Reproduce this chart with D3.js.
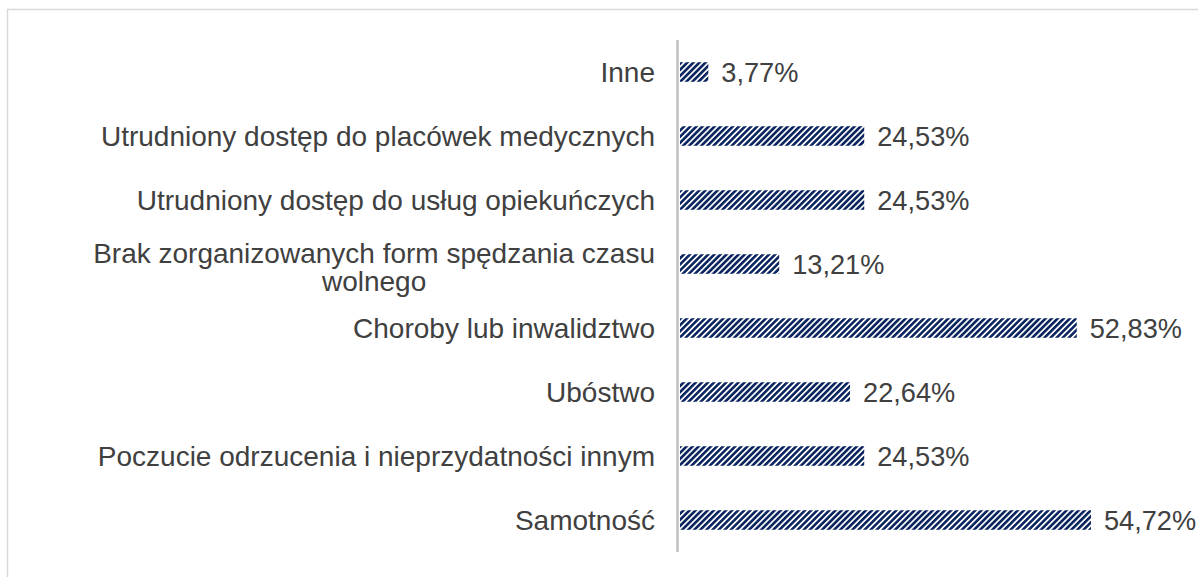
<!DOCTYPE html>
<html>
<head>
<meta charset="utf-8">
<script src="https://cdn.jsdelivr.net/npm/d3@7"></script>
<style>
  html, body { margin: 0; padding: 0; background: #fff; }
  svg { display: block; font-family: "Liberation Sans", Arial, sans-serif; }
</style>
</head>
<body>
<svg id="chart" width="1198" height="577"></svg>
<script>
// categories from top to bottom
const categories = [
  "Inne",
  "Utrudniony dostęp do placówek medycznych",
  "Utrudniony dostęp do usług opiekuńczych",
  "Brak zorganizowanych form spędzania czasu wolnego",
  "Choroby lub inwalidztwo",
  "Ubóstwo",
  "Poczucie odrzucenia i nieprzydatności innym",
  "Samotność"
];
const values = [3.77, 24.53, 24.53, 13.21, 52.83, 22.64, 24.53, 54.72];

const width = 1198, height = 577;
const svg = d3.select("#chart");

// stripe pattern for the bars
const defs = svg.append("defs");
const pat = defs.append("pattern")
    .attr("id", "stripes")
    .attr("patternUnits", "userSpaceOnUse")
    .attr("width", 4.3)
    .attr("height", 10)
    .attr("patternTransform", "rotate(45)");
pat.append("rect").attr("width", 4.3).attr("height", 10).attr("fill", "#fff");
pat.append("rect").attr("width", 2.6).attr("height", 10).attr("fill", "#0c2660");

// chart area border
svg.append("rect")
    .attr("x", 7.5).attr("y", 9.5)
    .attr("width", width + 20).attr("height", height + 20)
    .attr("fill", "none")
    .attr("stroke", "#d9d9d9")
    .attr("stroke-width", 1.5);

const x = d3.scaleLinear().domain([0, 60]).range([680, 680 + 60 * 7.51]);
const y = d3.scaleBand().domain(categories).range([40, 552])
    .paddingInner(0.695).paddingOuter(0.3475);

// bars
svg.append("g")
  .selectAll("rect")
  .data(values)
  .join("rect")
    .attr("x", x(0))
    .attr("y", (d, i) => y(categories[i]))
    .attr("width", d => x(d) - x(0))
    .attr("height", y.bandwidth())
    .attr("fill", "url(#stripes)");

// vertical axis line
svg.append("line")
    .attr("x1", 677.5).attr("x2", 677.5)
    .attr("y1", 40).attr("y2", 552)
    .attr("stroke", "#bfbfbf")
    .attr("stroke-width", 2.5);

const fmt = v => d3.format(".2f")(v).replace(".", ",") + "%";
const fontSize = 28;

// value labels
svg.append("g")
  .selectAll("text")
  .data(values)
  .join("text")
    .attr("x", d => x(d) + 13)
    .attr("y", (d, i) => y(categories[i]) + y.bandwidth() / 2)
    .attr("dy", "0.36em")
    .attr("fill", "#404040")
    .style("font-size", "27.2px")
    .text(d => fmt(d));

// category labels, wrapped and centred like Excel does
const labelRight = 655, maxW = 600, lineH = 28;
const lg = svg.append("g");
categories.forEach(cat => {
  const cy = y(cat) + y.bandwidth() / 2;
  const words = cat.split(" ");
  const probe = lg.append("text").style("font-size", fontSize + "px");
  const lines = [];
  let cur = [];
  words.forEach(w => {
    cur.push(w);
    probe.text(cur.join(" "));
    if (probe.node().getComputedTextLength() > maxW && cur.length > 1) {
      cur.pop();
      lines.push(cur.join(" "));
      cur = [w];
    }
  });
  lines.push(cur.join(" "));
  const widths = lines.map(l => { probe.text(l); return probe.node().getComputedTextLength(); });
  probe.remove();
  const blockW = d3.max(widths);
  const shift = lines.length > 1 ? 3 : 0;
  const t = lg.append("text")
      .attr("text-anchor", "middle")
      .attr("fill", "#404040")
      .style("font-size", fontSize + "px");
  lines.forEach((l, i) => {
    t.append("tspan")
      .attr("x", labelRight - blockW / 2)
      .attr("y", cy + shift + (i - (lines.length - 1) / 2) * lineH)
      .attr("dy", "0.36em")
      .text(l);
  });
});
</script>
</body>
</html>
